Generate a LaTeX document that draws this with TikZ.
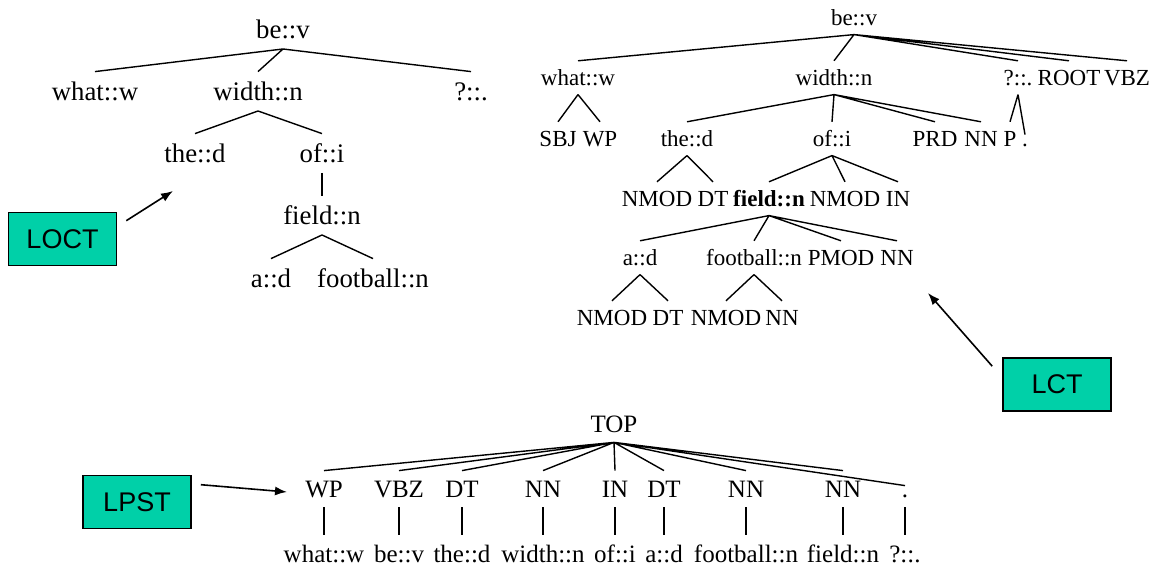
\documentclass[tikz,border=0pt]{standalone}
\usepackage{fontspec}
\setmainfont{Liberation Serif}
\newfontfamily\boxfont{Liberation Sans}
\usepackage{tikz}
\usetikzlibrary{arrows.meta}
\definecolor{kgreen}{RGB}{0,208,168}

\begin{document}
\begin{tikzpicture}[
        x=0.5pt, y=-0.5pt,
        word/.style={inner sep=0pt, anchor=base},
        octree/.style={word, font=\fontsize{13.4}{16}\selectfont, text height=14.5pt, text depth=4.8pt},
        lctree/.style={word, font=\fontsize{11.5}{14}\selectfont, text height=12.4pt, text depth=4.1pt},
        pstree/.style={word, font=\fontsize{12.5}{15}\selectfont, text height=13.5pt, text depth=4.5pt},
        dot/.style={text height=6pt},
        kernel/.style={draw, rectangle, fill=kgreen, line width=0.8pt, minimum width=54pt, minimum height=26.5pt, font=\boxfont\fontsize{13.5}{16}\selectfont},
        edge/.style={line width=0.7pt},
        arrow/.style={-{Latex[length=6pt, width=4.5pt]}, line width=0.8pt}
    ]
        \useasboundingbox (0,0) rectangle (1160,565);

        % LOCT tree
        \node[octree] (obe) at (283,39) {be::v};
        \node[octree] (owhat) at (95,101) {what::w};
        \node[octree] (owidth) at (258,101) {width::n};
        \node[octree] (oq) at (471,101) {?::.};
        \node[octree] (othe) at (195,163) {the::d};
        \node[octree] (oof) at (322,163) {of::i};
        \node[octree] (ofield) at (322,225) {field::n};
        \node[octree] (oa) at (271,288) {a::d};
        \node[octree] (ofoot) at (373,288) {football::n};

        % LCT tree
        \node[lctree] (cbe) at (854,26) {be::v};
        \node[lctree] (cwhat) at (578,86) {what::w};
        \node[lctree] (cwidth) at (834,86) {width::n};
        \node[lctree] (cq) at (1018,86) {?::.};
        \node[lctree] (croot) at (1069,86) {ROOT};
        \node[lctree] (cvbz) at (1127,86) {VBZ};
        \node[lctree] (csbj) at (558,147) {SBJ};
        \node[lctree] (cwp) at (600,147) {WP};
        \node[lctree] (cthe) at (687,147) {the::d};
        \node[lctree] (cof) at (832,147) {of::i};
        \node[lctree] (cprd) at (935,147) {PRD};
        \node[lctree] (cnn) at (981,147) {NN};
        \node[lctree] (cp) at (1010,147) {P};
        \node[lctree, dot] (cdot) at (1025,147) {.};
        \node[lctree] (cnmoda) at (657,207) {NMOD};
        \node[lctree] (cdta) at (713,207) {DT};
        \node[lctree] (cfield) at (769,207) {\textbf{field::n}};
        \node[lctree] (cnmodb) at (845,207) {NMOD};
        \node[lctree] (cin) at (898,207) {IN};
        \node[lctree] (ca) at (640,266) {a::d};
        \node[lctree] (cfoot) at (754,266) {football::n};
        \node[lctree] (cpmod) at (841,266) {PMOD};
        \node[lctree] (cnnb) at (897,266) {NN};
        \node[lctree] (cnmodc) at (612,326) {NMOD};
        \node[lctree] (cdtb) at (668,326) {DT};
        \node[lctree] (cnmodd) at (726,326) {NMOD};
        \node[lctree] (cnnc) at (782,326) {NN};

        % LPST tree
        \node[pstree] (ptop) at (614,433) {TOP};
        \node[pstree] (pwp) at (324,498) {WP};
        \node[pstree] (pvbz) at (399,498) {VBZ};
        \node[pstree] (pdta) at (462,498) {DT};
        \node[pstree] (pnna) at (543,498) {NN};
        \node[pstree] (pin) at (615,498) {IN};
        \node[pstree] (pdtb) at (664,498) {DT};
        \node[pstree] (pnnb) at (746,498) {NN};
        \node[pstree] (pnnc) at (843,498) {NN};
        \node[pstree, dot] (pdot) at (905,498) {.};
        \node[pstree] (pwhat) at (324,562) {what::w};
        \node[pstree] (pbe) at (399,562) {be::v};
        \node[pstree] (pthe) at (462,562) {the::d};
        \node[pstree] (pwidth) at (543,562) {width::n};
        \node[pstree] (pof) at (615,562) {of::i};
        \node[pstree] (pa) at (664,562) {a::d};
        \node[pstree] (pfoot) at (746,562) {football::n};
        \node[pstree] (pfield) at (843,562) {field::n};
        \node[pstree] (pq) at (905,562) {?::.};

        % Kernel boxes
        \node[kernel] (loct) at (62.5,239) {LOCT};
        \node[kernel] (lct) at (1057,384.5) {LCT};
        \node[kernel] (lpst) at (137,502) {LPST};
        \coordinate (octip) at (173,191);
        \coordinate (ctip) at (928,293);
        \coordinate (ptip) at (287,492);

        % Edges
        \draw[edge] (obe.south) -- (owhat.north) (obe.south) -- (owidth.north) (obe.south) -- (oq.north);
        \draw[edge] (owidth.south) -- (othe.north) (owidth.south) -- (oof.north);
        \draw[edge] (oof.south) -- (ofield.north);
        \draw[edge] (ofield.south) -- (oa.north) (ofield.south) -- (ofoot.north);

        \draw[edge] (cbe.south) -- (cwhat.north) (cbe.south) -- (cwidth.north) (cbe.south) -- (cq.north)
            (cbe.south) -- (croot.north) (cbe.south) -- (cvbz.north);
        \draw[edge] (cwhat.south) -- (csbj.north) (cwhat.south) -- (cwp.north);
        \draw[edge] (cwidth.south) -- (cthe.north) (cwidth.south) -- (cof.north)
            (cwidth.south) -- (cprd.north) (cwidth.south) -- (cnn.north);
        \draw[edge] (cq.south) -- (cp.north) (cq.south) -- (cdot.north);
        \draw[edge] (cthe.south) -- (cnmoda.north) (cthe.south) -- (cdta.north);
        \draw[edge] (cof.south) -- (cfield.north) (cof.south) -- (cnmodb.north) (cof.south) -- (cin.north);
        \draw[edge] (cfield.south) -- (ca.north) (cfield.south) -- (cfoot.north)
            (cfield.south) -- (cpmod.north) (cfield.south) -- (cnnb.north);
        \draw[edge] (ca.south) -- (cnmodc.north) (ca.south) -- (cdtb.north);
        \draw[edge] (cfoot.south) -- (cnmodd.north) (cfoot.south) -- (cnnc.north);

        \draw[edge] (ptop.south) -- (pwp.north) (ptop.south) -- (pvbz.north) (ptop.south) -- (pdta.north)
            (ptop.south) -- (pnna.north) (ptop.south) -- (pin.north) (ptop.south) -- (pdtb.north)
            (ptop.south) -- (pnnb.north) (ptop.south) -- (pnnc.north) (ptop.south) -- (pdot.north);
        \draw[edge] (pwp.south) -- (pwhat.north) (pvbz.south) -- (pbe.north) (pdta.south) -- (pthe.north)
            (pnna.south) -- (pwidth.north) (pin.south) -- (pof.north) (pdtb.south) -- (pa.north)
            (pnnb.south) -- (pfoot.north) (pnnc.south) -- (pfield.north) (pdot.south) -- (pq.north);

        % Arrows
        \draw[arrow] ([shift={(9,9)}]loct.north east) -- (octip);
        \draw[arrow] ([shift={(-10,9)}]lct.north west) -- (ctip);
        \draw[arrow] ([shift={(9,10)}]lpst.north east) -- (ptip);
    \end{tikzpicture}
\end{document}
